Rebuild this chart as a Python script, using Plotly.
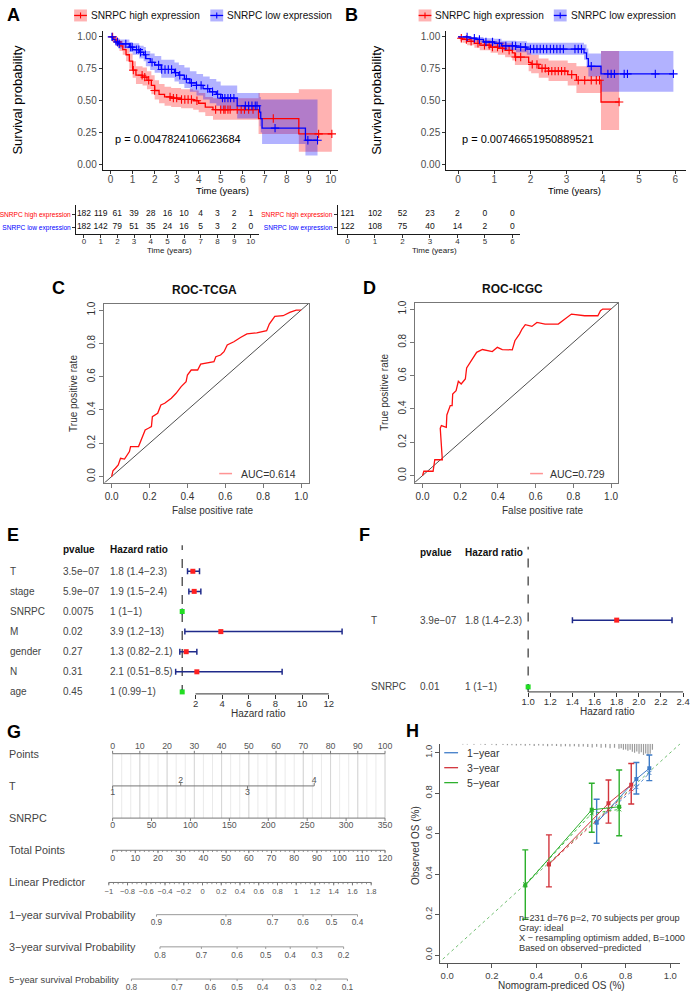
import numpy as np
import plotly.graph_objects as go

W, H = 693, 992
FONT = "Liberation Sans, Arial, sans-serif"

# ======================= DATA =======================
# ---- Panel A: TCGA Kaplan-Meier (years) ----
a_high_time = [0, 0.12, 0.25, 0.4, 0.55, 0.7, 0.85, 1.0, 1.15, 1.45, 1.65, 1.85, 2.0, 2.2, 2.45, 2.75, 3.2, 3.75, 4.0, 4.3, 4.65, 6.72, 8.55, 10.05]
a_high_surv = [1.0, 0.98, 0.96, 0.93, 0.90, 0.86, 0.81, 0.74, 0.70, 0.685, 0.66, 0.62, 0.58, 0.55, 0.53, 0.52, 0.51, 0.50, 0.48, 0.45, 0.43, 0.36, 0.24, 0.24]
a_high_lower = [1.0, 0.96, 0.93, 0.89, 0.86, 0.81, 0.75, 0.68, 0.63, 0.62, 0.59, 0.55, 0.51, 0.48, 0.46, 0.45, 0.44, 0.43, 0.41, 0.38, 0.35, 0.24, 0.10, 0.10]
a_high_upper = [1.0, 1.0, 0.99, 0.97, 0.95, 0.91, 0.87, 0.81, 0.77, 0.76, 0.73, 0.70, 0.66, 0.63, 0.61, 0.60, 0.59, 0.58, 0.56, 0.53, 0.52, 0.56, 0.59, 0.59]
a_high_censor = [0.09, 0.31, 1.03, 1.43, 1.55, 1.73, 2.0, 2.7, 2.85, 3.0, 3.22, 3.37, 3.52, 3.67, 3.92, 4.77, 5.0, 5.14, 5.2, 5.33, 5.43, 5.75, 5.93, 6.08, 6.27, 6.47, 7.39, 9.45, 10.05]

a_low_time = [0, 0.08, 0.2, 0.35, 0.85, 1.0, 1.3, 1.5, 1.6, 1.8, 2.0, 2.3, 2.9, 3.1, 3.35, 3.6, 3.9, 4.2, 4.5, 4.8, 5.0, 5.75, 6.77, 6.82, 6.88, 8.85, 9.4]
a_low_surv = [1.0, 0.98, 0.96, 0.945, 0.92, 0.90, 0.88, 0.86, 0.83, 0.80, 0.78, 0.745, 0.72, 0.70, 0.67, 0.64, 0.62, 0.595, 0.57, 0.55, 0.52, 0.46, 0.41, 0.36, 0.285, 0.19, 0.19]
a_low_lower = [1.0, 0.96, 0.93, 0.91, 0.88, 0.86, 0.83, 0.81, 0.77, 0.74, 0.72, 0.68, 0.65, 0.63, 0.60, 0.57, 0.54, 0.51, 0.48, 0.46, 0.43, 0.36, 0.30, 0.25, 0.16, 0.07, 0.07]
a_low_upper = [1.0, 1.0, 0.99, 0.98, 0.96, 0.95, 0.93, 0.92, 0.89, 0.87, 0.85, 0.82, 0.80, 0.78, 0.76, 0.73, 0.71, 0.69, 0.67, 0.65, 0.62, 0.56, 0.53, 0.51, 0.51, 0.51, 0.51]
a_low_censor = [0.06, 0.31, 0.39, 0.69, 0.91, 0.98, 1.18, 1.28, 1.36, 1.58, 1.88, 2.18, 2.32, 2.47, 2.62, 2.77, 2.95, 3.14, 3.44, 3.67, 3.9, 4.11, 4.41, 4.63, 4.86, 5.08, 5.19, 5.33, 5.45, 5.6, 6.12, 6.27, 6.42, 6.57, 6.65, 7.47, 8.96, 9.4]

a_pvalue = "p = 0.0047824106623684"

# ---- Panel B: ICGC Kaplan-Meier (years) ----
b_high_time = [0, 0.05, 0.12, 0.25, 0.45, 0.6, 0.9, 1.1, 1.3, 1.5, 1.57, 1.95, 2.02, 2.23, 2.5, 3.03, 3.27, 3.95, 4.45]
b_high_surv = [1.0, 0.99, 0.98, 0.965, 0.95, 0.935, 0.92, 0.91, 0.895, 0.875, 0.842, 0.80, 0.785, 0.753, 0.732, 0.705, 0.66, 0.49, 0.49]
b_high_lower = [1.0, 0.97, 0.955, 0.935, 0.915, 0.895, 0.875, 0.86, 0.84, 0.815, 0.78, 0.73, 0.715, 0.68, 0.655, 0.62, 0.56, 0.27, 0.27]
b_high_upper = [1.0, 1.0, 1.0, 0.995, 0.985, 0.975, 0.965, 0.96, 0.95, 0.935, 0.91, 0.875, 0.86, 0.83, 0.815, 0.795, 0.77, 0.89, 0.89]
b_high_censor = [0.09, 0.23, 0.36, 0.55, 0.73, 0.86, 0.95, 1.09, 1.23, 1.41, 1.59, 1.73, 2.05, 2.18, 2.32, 2.41, 2.5, 2.59, 2.68, 2.77, 2.86, 2.95, 3.14, 3.32, 3.5, 3.68, 3.82, 3.91, 4.45]

b_low_time = [0, 0.3, 0.5, 0.7, 1.0, 1.2, 1.6, 1.9, 3.48, 3.55, 3.6, 3.95, 5.95]
b_low_surv = [1.0, 0.99, 0.98, 0.96, 0.95, 0.93, 0.92, 0.905, 0.875, 0.83, 0.77, 0.71, 0.71]
b_low_lower = [1.0, 0.97, 0.96, 0.935, 0.92, 0.895, 0.88, 0.86, 0.82, 0.76, 0.69, 0.57, 0.57]
b_low_upper = [1.0, 1.0, 1.0, 0.99, 0.985, 0.97, 0.965, 0.955, 0.94, 0.91, 0.87, 0.89, 0.89]
b_low_censor = [0.25, 0.45, 0.59, 0.77, 0.95, 1.14, 1.32, 1.5, 1.59, 1.73, 1.86, 2.0, 2.09, 2.18, 2.27, 2.36, 2.45, 2.55, 2.64, 2.73, 2.82, 2.91, 3.23, 3.32, 3.41, 3.68, 4.14, 4.23, 4.32, 4.59, 4.68, 5.45, 5.95]

b_pvalue = "p = 0.00746651950889521"

# ---- Risk tables ----
a_risk_times = [0, 1, 2, 3, 4, 5, 6, 7, 8, 9, 10]
a_risk_high = [182, 119, 61, 39, 28, 16, 10, 4, 3, 2, 1]
a_risk_low = [182, 142, 79, 51, 35, 24, 16, 5, 3, 2, 0]
b_risk_times = [0, 1, 2, 3, 4, 5, 6]
b_risk_high = [121, 102, 52, 23, 2, 0, 0]
b_risk_low = [122, 108, 75, 40, 14, 2, 0]
group_names = ["SNRPC high expression", "SNRPC low expression"]

# ---- ROC curves ----
roc_c_fpr = [0, 0.007, 0.02, 0.035, 0.047, 0.068, 0.094, 0.10, 0.142, 0.16, 0.177, 0.194, 0.21, 0.215, 0.243, 0.26, 0.28, 0.315, 0.34, 0.367, 0.393, 0.40, 0.42, 0.454, 0.47, 0.54, 0.55, 0.575, 0.593, 0.61, 0.645, 0.68, 0.714, 0.766, 0.818, 0.832, 0.861, 0.905, 0.94, 0.974, 1.0]
roc_c_tpr = [0, 0.034, 0.05, 0.07, 0.11, 0.105, 0.15, 0.18, 0.18, 0.23, 0.28, 0.29, 0.30, 0.36, 0.38, 0.43, 0.44, 0.47, 0.50, 0.54, 0.57, 0.61, 0.64, 0.64, 0.675, 0.69, 0.72, 0.73, 0.75, 0.79, 0.81, 0.835, 0.857, 0.863, 0.876, 0.916, 0.962, 0.966, 0.986, 1.0, 1.0]
roc_c_auc = "AUC=0.614"
roc_d_fpr = [0, 0.007, 0.056, 0.06, 0.065, 0.105, 0.094, 0.10, 0.126, 0.129, 0.147, 0.157, 0.16, 0.178, 0.19, 0.205, 0.227, 0.234, 0.252, 0.27, 0.287, 0.318, 0.37, 0.397, 0.423, 0.476, 0.49, 0.514, 0.528, 0.545, 0.58, 0.607, 0.65, 0.72, 0.755, 0.79, 0.86, 0.93, 0.944, 0.956, 1.0]
roc_d_tpr = [0, 0.026, 0.026, 0.06, 0.095, 0.095, 0.284, 0.30, 0.29, 0.364, 0.42, 0.42, 0.49, 0.51, 0.566, 0.55, 0.58, 0.646, 0.68, 0.706, 0.74, 0.757, 0.745, 0.77, 0.757, 0.755, 0.81, 0.85, 0.88, 0.906, 0.896, 0.92, 0.91, 0.91, 0.94, 0.97, 0.96, 0.96, 0.99, 1.0, 1.0]
roc_d_auc = "AUC=0.729"

# ---- Forest plots ----
e_vars = ["T", "stage", "SNRPC", "M", "gender", "N", "age"]
e_pval = ["3.5e\u221207", "5.9e\u221207", "0.0075", "0.02", "0.27", "0.31", "0.45"]
e_hr = [1.8, 1.9, 1.0, 3.9, 1.3, 2.1, 1.0]
e_lo = [1.4, 1.5, 1.0, 1.2, 0.82, 0.51, 0.99]
e_hi = [2.3, 2.4, 1.0, 13, 2.1, 8.5, 1.0]
e_ticks = [2, 4, 6, 8, 10, 12]

f_vars = ["T", "SNRPC"]
f_pval = ["3.9e\u221207", "0.01"]
f_hr = [1.8, 1.0]
f_lo = [1.4, 1.0]
f_hi = [2.3, 1.0]
f_ticks = [1.0, 1.2, 1.4, 1.6, 1.8, 2.0, 2.2, 2.4]

# ---- Nomogram (positions in points units, 0-100) ----
nomo_points_ticks = [0, 10, 20, 30, 40, 50, 60, 70, 80, 90, 100]
nomo_t_levels = ["1", "2", "3", "4"]
nomo_t_points = [0, 25, 49.5, 74]
nomo_snrpc_ticks = [0, 50, 100, 150, 200, 250, 300, 350]
nomo_snrpc_max = 350
nomo_total_ticks = [0, 10, 20, 30, 40, 50, 60, 70, 80, 90, 100, 110, 120]
nomo_total_max = 120
nomo_lp_ticks = [-1, -0.8, -0.6, -0.4, -0.2, 0, 0.2, 0.4, 0.6, 0.8, 1, 1.2, 1.4, 1.6, 1.8]
nomo_lp_points_at0 = 33.0
nomo_lp_points_per_unit = 34.4
nomo_s1_ticks = [0.9, 0.8, 0.7, 0.6, 0.5, 0.4]
nomo_s1_points = [16.1, 41.6, 58.7, 69.9, 80.4, 89.9]
nomo_s3_ticks = [0.8, 0.7, 0.6, 0.5, 0.4, 0.3, 0.2]
nomo_s3_points = [17.4, 32.6, 45.7, 56.2, 65.2, 75.0, 84.8]
nomo_s5_ticks = [0.8, 0.7, 0.6, 0.5, 0.4, 0.3, 0.2, 0.1]
nomo_s5_points = [6.9, 23.6, 35.9, 45.7, 55.1, 65.2, 74.6, 86.2]
nomo_rows = ["Points", "T", "SNRPC", "Total Points", "Linear Predictor",
             "1\u2212year survival Probability", "3\u2212year survival Probability",
             "5\u2212year survival Probability"]

# ---- Calibration (panel H) ----
cal_groups = ["1\u2212year", "3\u2212year", "5\u2212year"]
cal_pred = [[0.670, 0.848, 0.906], [0.456, 0.723, 0.825], [0.350, 0.648, 0.771]]
cal_obs = [[0.654, 0.870, 0.923], [0.448, 0.750, 0.842], [0.344, 0.718, 0.733]]
cal_lo = [[0.553, 0.796, 0.862], [0.337, 0.652, 0.747], [0.177, 0.607, 0.590]]
cal_hi = [[0.770, 0.952, 0.989], [0.594, 0.865, 0.947], [0.520, 0.849, 0.915]]
cal_corr = [[0.66, 0.83, 0.90], [0.45, 0.72, 0.82], [0.35, 0.70, 0.72]]
rug_x = [0.07, 0.09, 0.12, 0.15, 0.17, 0.20, 0.22, 0.25, 0.27, 0.29, 0.31, 0.33, 0.35, 0.37, 0.39, 0.41, 0.43, 0.45, 0.47, 0.49, 0.51, 0.53, 0.55, 0.57, 0.59, 0.61, 0.63, 0.65, 0.67, 0.69, 0.71, 0.73, 0.75, 0.77, 0.78, 0.79, 0.80, 0.81, 0.82, 0.83, 0.84, 0.85, 0.86, 0.87, 0.88, 0.89, 0.90, 0.91, 0.92]
rug_h = [0.004, 0.004, 0.005, 0.004, 0.006, 0.005, 0.007, 0.006, 0.008, 0.007, 0.009, 0.008, 0.010, 0.008, 0.011, 0.009, 0.010, 0.012, 0.010, 0.011, 0.013, 0.012, 0.014, 0.012, 0.015, 0.013, 0.016, 0.018, 0.015, 0.02, 0.018, 0.022, 0.02, 0.025, 0.022, 0.03, 0.028, 0.035, 0.03, 0.04, 0.045, 0.038, 0.05, 0.042, 0.055, 0.048, 0.06, 0.05, 0.03]
cal_text = ["n=231 d=76 p=2, 70 subjects per group", "Gray: ideal",
            "X \u2212 resampling optimism added, B=1000", "Based on observed\u2212predicted"]

# ======================= STYLE / HELPERS =======================
RED, BLUE = "#FF0000", "#0000FF"
RED_FILL, BLUE_FILL = "rgba(255,0,0,0.3)", "rgba(0,0,255,0.3)"
CAL_COLS = ["#3F7CC8", "#D2343C", "#2DB02D"]


def xax(pl, pr, v0, p0, v1, p1, **kw):
    s = (p1 - p0) / (v1 - v0)
    d = dict(domain=[pl / W, pr / W], range=[v0 + (pl - p0) / s, v0 + (pr - p0) / s],
             showgrid=False, zeroline=False)
    d.update(kw)
    return d


def yax(pt, pb, v0, p0, v1, p1, **kw):
    s = (p1 - p0) / (v1 - v0)
    d = dict(domain=[1 - pb / H, 1 - pt / H], range=[v0 + (pb - p0) / s, v0 + (pt - p0) / s],
             showgrid=False, zeroline=False)
    d.update(kw)
    return d


km_ax = dict(showline=True, linecolor="#1a1a1a", linewidth=1, ticks="outside", ticklen=3,
             tickwidth=1, tickcolor="#333", tickfont=dict(size=10, color="#4d4d4d"))
tab_ax = dict(showline=True, linecolor="#1a1a1a", linewidth=1, ticks="outside", ticklen=3,
              tickwidth=1, tickcolor="#333", tickfont=dict(size=8, color="#333"))
roc_ticks = [0, 0.2, 0.4, 0.6, 0.8, 1.0]
roc_ax = dict(showline=True, mirror=True, linecolor="#777", linewidth=1, ticks="outside",
              ticklen=4, tickwidth=1, tickcolor="#777", tickfont=dict(size=10, color="#333"),
              tickvals=roc_ticks, ticktext=[f"{v:.1f}" for v in roc_ticks])
fp_ax = dict(showline=False, ticks="outside", ticklen=4, tickwidth=1, tickcolor="#333",
             tickfont=dict(size=9.5, color="#333"), ticklabelstandoff=-3)
cal_ax = dict(showline=True, linecolor="#555", linewidth=1, ticks="outside", ticklen=4,
              tickwidth=1, tickcolor="#555", tickfont=dict(size=9.5, color="#444"),
              tickvals=roc_ticks, ticktext=[f"{v:.1f}" for v in roc_ticks])
km_yt = [0, 0.25, 0.5, 0.75, 1.0]
tab_ytext = [f'<span style="color:{RED}">{group_names[0]}</span>',
             f'<span style="color:{BLUE}">{group_names[1]}</span>']

axes = [
    # 1 A KM
    (xax(97, 335, 0, 105, 10, 328, tickvals=a_risk_times, ticklabelstandoff=-3, **km_ax),
     yax(28, 168, 0, 162, 1, 34, tickvals=km_yt, ticktext=[f"{v:.2f}" for v in km_yt], **km_ax)),
    # 2 B KM
    (xax(445, 688, 0, 457, 6, 677, tickvals=b_risk_times, ticklabelstandoff=-3, **km_ax),
     yax(28, 168, 0, 162, 1, 34, tickvals=km_yt, ticktext=[f"{v:.2f}" for v in km_yt], **km_ax)),
    # 3 A table
    (xax(70, 255, 0, 78, 10, 247, tickvals=a_risk_times, ticklabelstandoff=-4, **tab_ax),
     yax(203, 232, 1, 225, 2, 212, tickvals=[2, 1], ticktext=tab_ytext,
         **{**tab_ax, "tickfont": dict(size=6.6)})),
    # 4 B table
    (xax(335, 520, 0, 345, 6, 512, tickvals=b_risk_times, ticklabelstandoff=-4, **tab_ax),
     yax(203, 232, 1, 225, 2, 212, tickvals=[2, 1], ticktext=tab_ytext,
         **{**tab_ax, "tickfont": dict(size=6.6)})),
    # 5 C ROC
    (xax(98, 306, 0, 106, 1, 298, **roc_ax), yax(302, 481, 0, 475, 1, 308, tickangle=-90, **roc_ax)),
    # 6 D ROC
    (xax(413, 619, 0, 421, 1, 612, **roc_ax), yax(301, 481, 0, 474, 1, 307, tickangle=-90, **roc_ax)),
    # 7 E forest
    (xax(158, 347, 2, 191, 12, 326, tickvals=e_ticks, **fp_ax),
     yax(540, 693, 1, 691, 7, 570, visible=False)),
    # 8 F forest
    (xax(515, 690, 1.0, 528, 2.4, 685, tickvals=f_ticks, ticktext=[f"{v:.1f}" for v in f_ticks], **fp_ax),
     yax(540, 691, 1, 686, 2, 619, visible=False)),
    # 9 G nomogram
    (xax(0, 392, 0, 107, 100, 383, visible=False), yax(738, 992, 1, 979, 8, 753, visible=False)),
    # 10 H calibration
    (xax(439, 682, 0, 446, 1, 672, **cal_ax), yax(743, 963, 0, 955, 1, 752, tickangle=-90, **cal_ax)),
]

fig = go.Figure()


def sfx(k):
    return "" if k == 1 else str(k)


def add(k, tr):
    tr.update(xaxis="x" + sfx(k), yaxis="y" + sfx(k), showlegend=False, hoverinfo="skip")
    fig.add_trace(tr)


def step_at(times, surv, q):
    idx = np.searchsorted(np.array(times), np.array(q), side="right") - 1
    return [surv[i] for i in idx]


# ---------------- KM panels ----------------
def km_panel(k, groups):
    for t, s, lo, hi, c, col, fill in groups:
        add(k, go.Scatter(x=t, y=lo, mode="lines", line=dict(width=0, shape="hv")))
        add(k, go.Scatter(x=t, y=hi, mode="lines", line=dict(width=0, shape="hv"),
                          fill="tonexty", fillcolor=fill))
    for t, s, lo, hi, c, col, fill in groups:
        add(k, go.Scatter(x=t, y=s, mode="lines", line=dict(width=1.3, color=col, shape="hv")))
        add(k, go.Scatter(x=c, y=step_at(t, s, c), mode="markers",
                          marker=dict(symbol="cross-thin", size=6, line=dict(width=1.1, color=col))))


km_panel(1, [(a_high_time, a_high_surv, a_high_lower, a_high_upper, a_high_censor, RED, RED_FILL),
             (a_low_time, a_low_surv, a_low_lower, a_low_upper, a_low_censor, BLUE, BLUE_FILL)])
km_panel(2, [(b_high_time, b_high_surv, b_high_lower, b_high_upper, b_high_censor, RED, RED_FILL),
             (b_low_time, b_low_surv, b_low_lower, b_low_upper, b_low_censor, BLUE, BLUE_FILL)])

# ---------------- risk tables ----------------
for k, times, hi_n, lo_n in [(3, a_risk_times, a_risk_high, a_risk_low), (4, b_risk_times, b_risk_high, b_risk_low)]:
    add(k, go.Scatter(x=times, y=[2] * len(times), mode="text", text=[str(v) for v in hi_n],
                      textfont=dict(size=8.5, color="#111"), cliponaxis=False))
    add(k, go.Scatter(x=times, y=[1] * len(times), mode="text", text=[str(v) for v in lo_n],
                      textfont=dict(size=8.5, color="#111"), cliponaxis=False))

# ---------------- ROC ----------------
for k, fpr, tpr in [(5, roc_c_fpr, roc_c_tpr), (6, roc_d_fpr, roc_d_tpr)]:
    add(k, go.Scatter(x=[-0.2, 1.2], y=[-0.2, 1.2], mode="lines", line=dict(color="#222", width=0.8)))
    add(k, go.Scatter(x=fpr, y=tpr, mode="lines", line=dict(color="#FF1010", width=1.3)))


# ---------------- Forest plots ----------------
def forest(k, hr, lo, hi, nrow, top):
    rows = list(range(nrow, 0, -1))
    add(k, go.Scatter(x=[1, 1], y=[0.9, top], mode="lines",
                      line=dict(color="#333", width=1.2, dash="dash")))
    cols = ["#22DD22" if h == 1 else "#FF2020" for h in hr]
    add(k, go.Scatter(x=hr, y=rows, mode="markers",
                      marker=dict(symbol="square", size=5, color=cols),
                      error_x=dict(type="data", symmetric=False,
                                   array=[b - a for a, b in zip(hr, hi)],
                                   arrayminus=[a - b for a, b in zip(hr, lo)],
                                   color="#1F2A8A", thickness=1.5, width=3),
                      cliponaxis=False))


forest(7, e_hr, e_lo, e_hi, len(e_vars), 8.3)
forest(8, f_hr, f_lo, f_hi, len(f_vars), 3.1)
fig.add_shape(type="line", xref="x7", yref="y7 domain", x0=min(e_ticks), x1=max(e_ticks), y0=0, y1=0,
              line=dict(color="#333", width=1))
fig.add_shape(type="line", xref="x8", yref="y8 domain", x0=min(f_ticks), x1=max(f_ticks), y0=0, y1=0,
              line=dict(color="#333", width=1))

# ---------------- Nomogram ----------------
NC = "#777"
TL = 0.09   # tick length in row units
LO = 0.25   # label offset in row units


def seg_trace(xs, y0s, y1s, color=NC, width=1):
    X, Y = [], []
    for x, a, b in zip(xs, y0s, y1s):
        X += [x, x, None]
        Y += [a, b, None]
    return go.Scatter(x=X, y=Y, mode="lines", line=dict(color=color, width=width))


def hline(row, x0, x1, color=NC):
    add(9, go.Scatter(x=[x0, x1], y=[row, row], mode="lines", line=dict(color=color, width=1)))


def labels(xs, row, texts, size=8.2):
    add(9, go.Scatter(x=xs, y=[row] * len(xs), mode="text", text=texts,
                      textfont=dict(size=size, color="#555"), cliponaxis=False))


# grid
grid = np.arange(0, 100.01, 10 / 3)
add(9, seg_trace(grid, [8] * len(grid), [6] * len(grid), color="#E4E4E4", width=0.8))
add(9, seg_trace(nomo_points_ticks, [8] * 11, [6] * 11, color="#D0D0D0", width=0.8))

# Points (row 8)
hline(8, 0, 100)
add(9, seg_trace(nomo_points_ticks, [8] * 11, [8 + TL] * 11))
labels(nomo_points_ticks, 8 + 0.2, [str(v) for v in nomo_points_ticks], size=8.8)
# T (row 7)
hline(7, min(nomo_t_points), max(nomo_t_points))
t_up = [i % 2 == 1 for i in range(len(nomo_t_points))]
add(9, seg_trace(nomo_t_points, [7] * 4, [7 + TL if u else 7 - TL for u in t_up]))
add(9, go.Scatter(x=nomo_t_points, y=[7 + 0.17 if u else 7 - 0.21 for u in t_up], mode="text",
                  text=nomo_t_levels, textfont=dict(size=8.8, color="#555"), cliponaxis=False))
# SNRPC (row 6)
snrpc_pts = [v * 100 / nomo_snrpc_max for v in nomo_snrpc_ticks]
hline(6, 0, 100)
add(9, seg_trace(snrpc_pts, [6] * len(snrpc_pts), [6 - TL] * len(snrpc_pts)))
labels(snrpc_pts, 6 - LO, [str(v) for v in nomo_snrpc_ticks], size=8.8)
# Total points (row 5)
tot_pts = [v * 100 / nomo_total_max for v in nomo_total_ticks]
tot_minor = np.arange(0, nomo_total_max + 0.01, 2) * 100 / nomo_total_max
hline(5, 0, 100)
add(9, seg_trace(tot_minor, [5] * len(tot_minor), [5 - TL * 0.6] * len(tot_minor), width=0.8))
add(9, seg_trace(tot_pts, [5] * len(tot_pts), [5 - TL] * len(tot_pts)))
labels(tot_pts, 5 - LO, [str(v) for v in nomo_total_ticks], size=8.8)
# Linear predictor (row 4)
lp_pts = [nomo_lp_points_at0 + v * nomo_lp_points_per_unit for v in nomo_lp_ticks]
lp_minor = [nomo_lp_points_at0 + v * nomo_lp_points_per_unit for v in np.arange(-1, 1.801, 0.05)]
hline(4, min(lp_pts), max(lp_pts))
add(9, seg_trace(lp_minor, [4] * len(lp_minor), [4 - TL * 0.6] * len(lp_minor), width=0.8))
add(9, seg_trace(lp_pts, [4] * len(lp_pts), [4 - TL] * len(lp_pts)))
labels(lp_pts, 4 - 0.3, [f"{v:g}".replace("-", "\u2212") for v in nomo_lp_ticks], size=7.6)
# survival rows
for row, ticks, pts in [(3, nomo_s1_ticks, nomo_s1_points), (2, nomo_s3_ticks, nomo_s3_points),
                        (1, nomo_s5_ticks, nomo_s5_points)]:
    hline(row, min(pts), max(pts), color="#999")
    add(9, seg_trace(pts, [row] * len(pts), [row - TL * 0.7] * len(pts), color="#999"))
    labels(pts, row - 0.27, [f"{v:.1f}" for v in ticks], size=8.3)

# ---------------- Calibration (H) ----------------
add(10, go.Scatter(x=[-0.1, 1.1], y=[-0.1, 1.1], mode="lines",
                   line=dict(color="rgba(90,180,90,0.85)", width=1, dash="dot")))
ytop = axes[9][1]["range"][1]
add(10, seg_trace(rug_x, [ytop] * len(rug_x), [ytop - h for h in rug_h], color="#9a9a9a", width=1.2))
for g in range(3):
    col = CAL_COLS[g]
    add(10, go.Scatter(x=cal_pred[g], y=cal_corr[g], mode="lines+markers",
                       line=dict(color=col, width=0.9, dash="dot"),
                       marker=dict(symbol="x-thin", size=4, line=dict(width=1, color=col))))
    add(10, go.Scatter(x=cal_pred[g], y=cal_obs[g], mode="lines+markers",
                       line=dict(color=col, width=1),
                       marker=dict(symbol="square", size=4, color=col),
                       error_y=dict(type="data", symmetric=False,
                                    array=[b - a for a, b in zip(cal_obs[g], cal_hi[g])],
                                    arrayminus=[a - b for a, b in zip(cal_obs[g], cal_lo[g])],
                                    color=col, thickness=1.4, width=3)))

# ======================= LAYOUT =======================
layout = dict(width=W, height=H, margin=dict(l=0, r=0, t=0, b=0), showlegend=False,
              plot_bgcolor="white", paper_bgcolor="white", font=dict(family=FONT, color="#222"))
for i, (xa, ya) in enumerate(axes, 1):
    layout["xaxis" + sfx(i)] = {**xa, "anchor": "y" + sfx(i)}
    layout["yaxis" + sfx(i)] = {**ya, "anchor": "x" + sfx(i)}
fig.update_layout(**layout)

ann = []


def A(text, x, y, size=10, color="#222", bold=False, xanchor="center", angle=0,
      xref="paper", yref="paper", family=FONT):
    if xref == "paper":
        x = x / W
    if yref == "paper":
        y = 1 - y / H
    ann.append(dict(text=f"<b>{text}</b>" if bold else text, x=x, y=y, xref=xref, yref=yref,
                    xanchor=xanchor, yanchor="middle", showarrow=False, textangle=angle,
                    font=dict(size=size, color=color, family=family)))


# panel letters
for L, x, y in [("A", 7, 12), ("B", 349, 12), ("C", 52, 286), ("D", 367, 286),
                ("E", 6, 534), ("F", 362, 534), ("G", 7, 731), ("H", 411, 730)]:
    A(L, x, y, size=18, color="#000", bold=True)

# KM titles
A("Survival probability", 11, 97, size=13, color="#000", angle=-90)
A("Survival probability", 375, 97, size=13, color="#000", angle=-90)
A("Time (years)", 218, 188, size=9.5, color="#000")
A("Time (years)", 575, 188, size=9.5, color="#000")
A(a_pvalue, 0.1, 0.2, size=11, color="#000", xanchor="left", xref="x", yref="y")
A(b_pvalue, 0.06, 0.2, size=11, color="#000", xanchor="left", xref="x2", yref="y2")
A("Time (years)", 165, 248, size=8, color="#222")
A("Time (years)", 433, 248, size=8, color="#222")

# KM legends (keys drawn as shapes)
shapes = []


def km_key(x0, col, fill):
    shapes.append(dict(type="rect", xref="paper", yref="paper", x0=x0 / W, x1=(x0 + 13) / W,
                       y0=1 - 18.5 / H, y1=1 - 6.5 / H, fillcolor=fill, line=dict(width=0)))
    shapes.append(dict(type="line", xref="paper", yref="paper", x0=x0 / W, x1=(x0 + 13) / W,
                       y0=1 - 12.5 / H, y1=1 - 12.5 / H, line=dict(color=col, width=1.3)))
    shapes.append(dict(type="line", xref="paper", yref="paper", x0=(x0 + 6.5) / W, x1=(x0 + 6.5) / W,
                       y0=1 - 9.5 / H, y1=1 - 15.5 / H, line=dict(color=col, width=1.1)))


for x0, tx, name, col, fill in [(68, 83, group_names[0], RED, RED_FILL), (206, 221, group_names[1], BLUE, BLUE_FILL),
                                (417, 432, group_names[0], RED, RED_FILL), (554, 569, group_names[1], BLUE, BLUE_FILL)]:
    km_key(x0, col, fill)
    A(name, tx, 12.5, size=10.1, color="#111", xanchor="left")

# ROC texts
A("ROC-TCGA", 200, 288, size=12, color="#111", bold=True)
A("ROC-ICGC", 512, 287, size=12, color="#111", bold=True)
A("False positive rate", 209, 509, size=10, color="#333")
A("False positive rate", 543, 509, size=10, color="#333")
A("True positive rate", 68, 392, size=10, color="#333", angle=-90)
A("True positive rate", 383, 391, size=10, color="#333", angle=-90)
for x0, tx, y, txt in [(215, 235, 472, roc_c_auc), (530, 548, 472, roc_d_auc)]:
    shapes.append(dict(type="line", xref="paper", yref="paper", x0=x0 / W, x1=(x0 + 13) / W,
                       y0=1 - y / H, y1=1 - y / H, line=dict(color="rgba(255,60,60,0.55)", width=1.5)))
    A(txt, tx, y, size=10.5, color="#333", xanchor="left")

# Forest texts
for k, vars_, pv, hr, lo, hi, xs, hdr_row in [
        (7, e_vars, e_pval, e_hr, e_lo, e_hi, (1, 55, 102), 8.09),
        (8, f_vars, f_pval, f_hr, f_lo, f_hi, (367, 416, 462), 3.01)]:
    yref = "y" + sfx(k)
    A("pvalue", xs[1], hdr_row, size=10, color="#111", bold=True, xanchor="left", yref=yref)
    A("Hazard ratio", xs[2], hdr_row, size=10, color="#111", bold=True, xanchor="left", yref=yref)
    n = len(vars_)
    for i in range(n):
        r = n - i
        A(vars_[i], xs[0], r, size=10, color="#444", xanchor="left", yref=yref)
        A(pv[i], xs[1], r, size=10, color="#444", xanchor="left", yref=yref)
        A(f"{hr[i]:g} ({lo[i]:g}\u2212{hi[i]:g})", xs[2], r, size=10, color="#444", xanchor="left", yref=yref)
A("Hazard ratio", 255, 713, size=10, color="#333")
A("Hazard ratio", 608, 711, size=10, color="#333")

# Nomogram row labels
for i, name in enumerate(nomo_rows):
    row = 8 - i
    A(name, 0, row, size=9.4 if i == 7 else 10.8, color="#444", xanchor="left", yref="y9")

# Calibration texts
A("Nomogram-prediced OS (%)", 562, 985, size=10, color="#333")
A("Observed OS (%)", 414, 845, size=10, color="#333", angle=-90)
for i, t in enumerate(cal_text):
    A(t, 517, 917.5 + i * 10.2, size=9.2, color="#333", xanchor="left")
for g, (y, name) in enumerate(zip([752, 767, 782], cal_groups)):
    shapes.append(dict(type="line", xref="paper", yref="paper", x0=443 / W, x1=457 / W,
                       y0=1 - y / H, y1=1 - y / H, line=dict(color=CAL_COLS[g], width=1.3)))
    A(name, 464, y, size=10.5, color="#333", xanchor="left")

fig.update_layout(annotations=ann, shapes=list(fig.layout.shapes) + shapes)
fig.write_html("out.html", config={"displayModeBar": False, "staticPlot": True},
               post_script="document.body.style.margin='0px';document.body.style.padding='0px';")
